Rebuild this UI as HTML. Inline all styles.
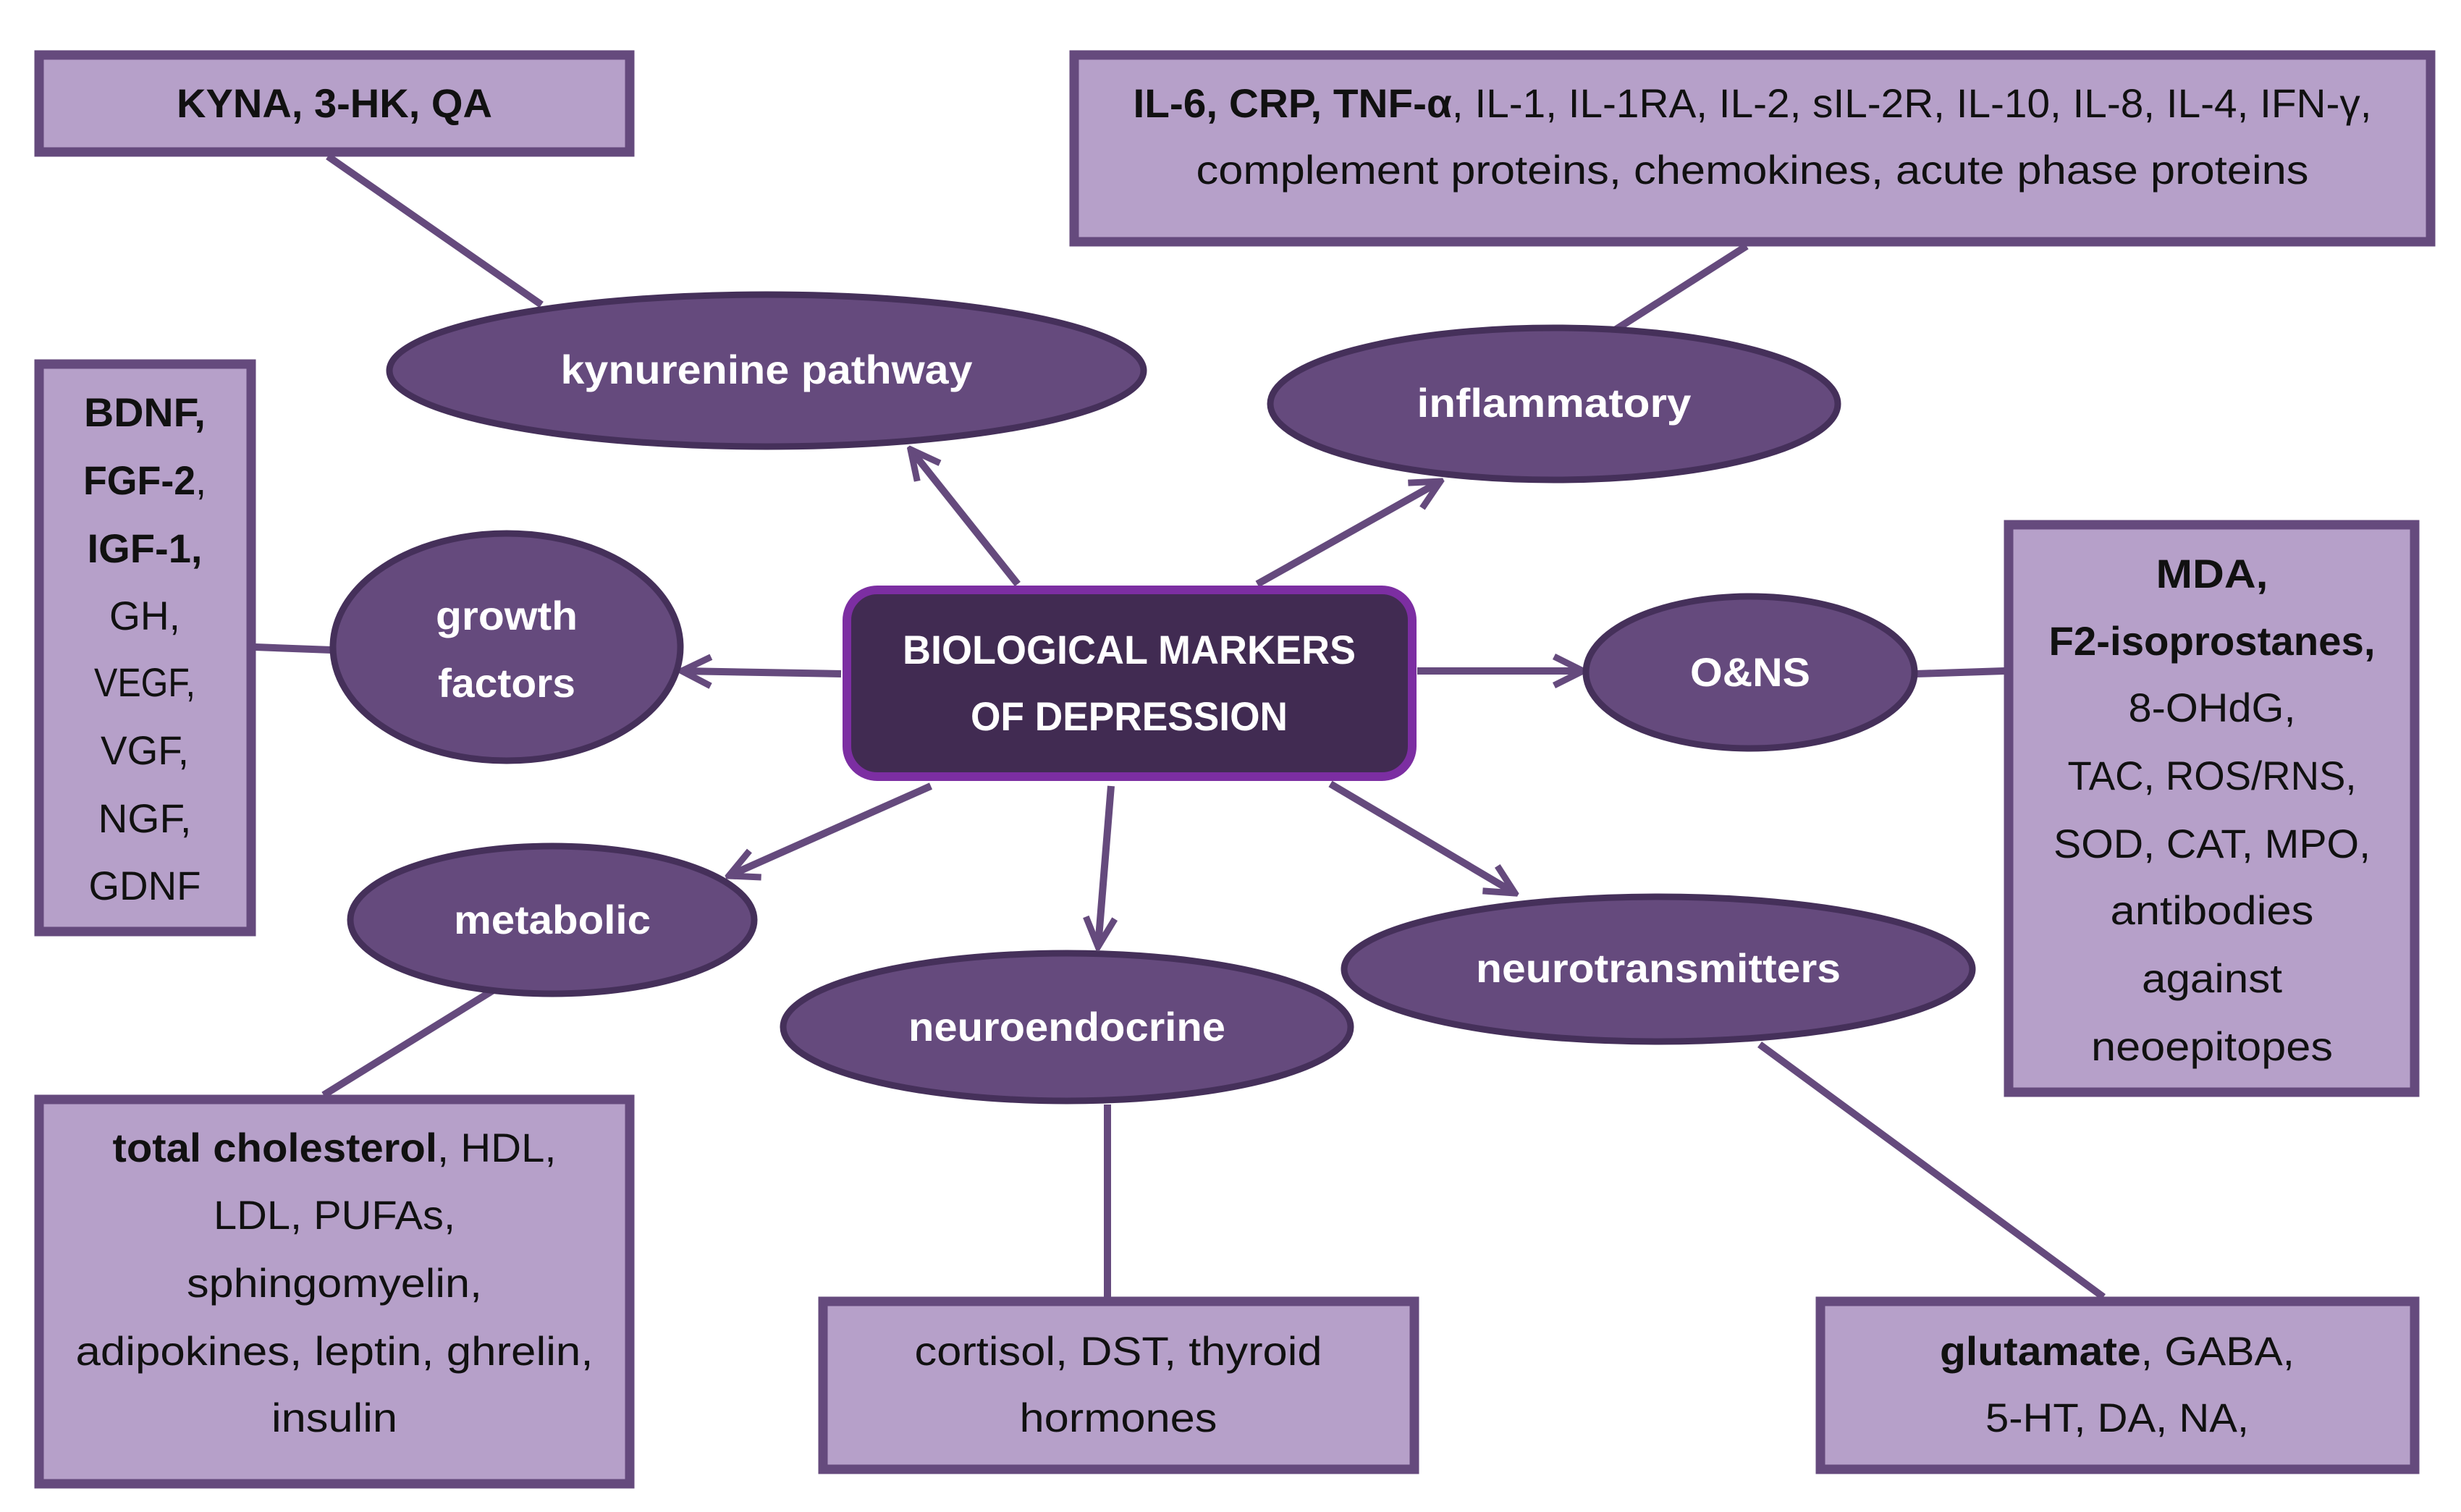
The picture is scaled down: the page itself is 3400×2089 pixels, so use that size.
<!DOCTYPE html>
<html><head><meta charset="utf-8"><style>html,body{margin:0;padding:0;background:#fff}svg{display:block}</style></head>
<body>
<svg width="3400" height="2089" viewBox="0 0 3400 2089" xmlns="http://www.w3.org/2000/svg" font-family="'Liberation Sans', sans-serif">
<defs>
<marker id="a" viewBox="0 0 10 10" refX="9" refY="5" markerWidth="5" markerHeight="5" orient="auto" markerUnits="strokeWidth">
<polyline points="1,1 9,5 1,9" fill="none" stroke="#654a7d" stroke-width="1.8" stroke-linejoin="miter"/>
</marker>
</defs>
<g stroke="#654a7d" stroke-width="10" fill="none">
<line x1="453" y1="216" x2="748" y2="421"/>
<line x1="2413" y1="340" x2="2228" y2="458"/>
<line x1="353" y1="894" x2="458" y2="898"/>
<line x1="2647" y1="931" x2="2769" y2="927"/>
<line x1="680" y1="1369" x2="447" y2="1513"/>
<line x1="1530" y1="1526" x2="1530" y2="1792"/>
<line x1="2431" y1="1443" x2="2906" y2="1792"/>
<line x1="1406" y1="807" x2="1258" y2="621" marker-end="url(#a)"/>
<line x1="1737" y1="807" x2="1990" y2="665" marker-end="url(#a)"/>
<line x1="1162" y1="931" x2="942" y2="927" marker-end="url(#a)"/>
<line x1="1958" y1="927" x2="2187" y2="927" marker-end="url(#a)"/>
<line x1="1286" y1="1086" x2="1007" y2="1210" marker-end="url(#a)"/>
<line x1="1535" y1="1086" x2="1517" y2="1308" marker-end="url(#a)"/>
<line x1="1838" y1="1083" x2="2093" y2="1234" marker-end="url(#a)"/>
</g>
<g fill="#b6a0c9" stroke="#654a7d" stroke-width="13">
<rect x="54" y="76" width="816" height="134"/>
<rect x="1484" y="76" width="1874" height="258"/>
<rect x="54" y="503" width="293" height="784"/>
<rect x="2775" y="725" width="561" height="784"/>
<rect x="54" y="1519" width="816" height="531"/>
<rect x="1137" y="1798" width="817" height="232"/>
<rect x="2515" y="1798" width="821" height="232"/>
</g>
<g fill="#654a7d" stroke="#45305a" stroke-width="9">
<ellipse cx="1059" cy="512" rx="521" ry="105"/>
<ellipse cx="2147" cy="558" rx="392" ry="105"/>
<ellipse cx="700" cy="894" rx="240" ry="157"/>
<ellipse cx="2418" cy="929" rx="227" ry="105"/>
<ellipse cx="763" cy="1271" rx="279" ry="102"/>
<ellipse cx="1474" cy="1419" rx="392" ry="102"/>
<ellipse cx="2291" cy="1339" rx="434" ry="100"/>
</g>
<rect x="1170" y="815" width="781" height="258" rx="42" fill="#412b52" stroke="#7c2ea2" stroke-width="12"/>
<g fill="#fff" font-weight="bold" font-size="56" text-anchor="middle">
<text x="1560" y="917" textLength="626" lengthAdjust="spacingAndGlyphs">BIOLOGICAL MARKERS</text>
<text x="1560" y="1009" textLength="438" lengthAdjust="spacingAndGlyphs">OF DEPRESSION</text>
<text x="1059" y="530" textLength="569" lengthAdjust="spacingAndGlyphs">kynurenine pathway</text>
<text x="2147" y="576" textLength="379" lengthAdjust="spacingAndGlyphs">inflammatory</text>
<text x="700" y="870" textLength="196" lengthAdjust="spacingAndGlyphs">growth</text>
<text x="700" y="963" textLength="190" lengthAdjust="spacingAndGlyphs">factors</text>
<text x="2418" y="948" textLength="166" lengthAdjust="spacingAndGlyphs">O&amp;NS</text>
<text x="763" y="1290" textLength="272" lengthAdjust="spacingAndGlyphs">metabolic</text>
<text x="1474" y="1438" textLength="438" lengthAdjust="spacingAndGlyphs">neuroendocrine</text>
<text x="2291" y="1357" textLength="504" lengthAdjust="spacingAndGlyphs">neurotransmitters</text>
</g>
<g fill="#111" font-size="56" text-anchor="middle" lengthAdjust="spacingAndGlyphs">
<text x="462" y="162" font-weight="bold" textLength="436" lengthAdjust="spacingAndGlyphs">KYNA, 3-HK, QA</text>
<text x="2421" y="162" textLength="1711" lengthAdjust="spacingAndGlyphs"><tspan font-weight="bold">IL-6, CRP, TNF-α</tspan>, IL-1, IL-1RA, IL-2, sIL-2R, IL-10, IL-8, IL-4, IFN-γ,</text>
<text x="2421" y="254" textLength="1537" lengthAdjust="spacingAndGlyphs">complement proteins, chemokines, acute phase proteins</text>
<text x="200" y="589" font-weight="bold" textLength="168" lengthAdjust="spacingAndGlyphs">BDNF,</text>
<text x="200" y="683" textLength="170" lengthAdjust="spacingAndGlyphs"><tspan font-weight="bold">FGF-2</tspan>,</text>
<text x="200" y="777" font-weight="bold" textLength="159" lengthAdjust="spacingAndGlyphs">IGF-1,</text>
<text x="200" y="870" textLength="98" lengthAdjust="spacingAndGlyphs">GH,</text>
<text x="200" y="962" textLength="140" lengthAdjust="spacingAndGlyphs">VEGF,</text>
<text x="200" y="1056" textLength="122" lengthAdjust="spacingAndGlyphs">VGF,</text>
<text x="200" y="1150" textLength="129" lengthAdjust="spacingAndGlyphs">NGF,</text>
<text x="200" y="1243" textLength="155" lengthAdjust="spacingAndGlyphs">GDNF</text>
<text x="3056" y="812" font-weight="bold" textLength="155" lengthAdjust="spacingAndGlyphs">MDA,</text>
<text x="3056" y="905" font-weight="bold" textLength="451" lengthAdjust="spacingAndGlyphs">F2-isoprostanes,</text>
<text x="3056" y="997" textLength="231" lengthAdjust="spacingAndGlyphs">8-OHdG,</text>
<text x="3056" y="1091" textLength="399" lengthAdjust="spacingAndGlyphs">TAC, ROS/RNS,</text>
<text x="3056" y="1185" textLength="438" lengthAdjust="spacingAndGlyphs">SOD, CAT, MPO,</text>
<text x="3056" y="1277" textLength="281" lengthAdjust="spacingAndGlyphs">antibodies</text>
<text x="3056" y="1371" textLength="194" lengthAdjust="spacingAndGlyphs">against</text>
<text x="3056" y="1465" textLength="334" lengthAdjust="spacingAndGlyphs">neoepitopes</text>
<text x="462" y="1605" textLength="613" lengthAdjust="spacingAndGlyphs"><tspan font-weight="bold">total cholesterol</tspan>, HDL,</text>
<text x="462" y="1698" textLength="334" lengthAdjust="spacingAndGlyphs">LDL,  PUFAs,</text>
<text x="462" y="1792" textLength="408" lengthAdjust="spacingAndGlyphs">sphingomyelin,</text>
<text x="462" y="1886" textLength="715" lengthAdjust="spacingAndGlyphs">adipokines, leptin, ghrelin,</text>
<text x="462" y="1978" textLength="174" lengthAdjust="spacingAndGlyphs">insulin</text>
<text x="1545" y="1886" textLength="563" lengthAdjust="spacingAndGlyphs">cortisol, DST, thyroid</text>
<text x="1545" y="1978" textLength="273" lengthAdjust="spacingAndGlyphs">hormones</text>
<text x="2925" y="1886" textLength="490" lengthAdjust="spacingAndGlyphs"><tspan font-weight="bold">glutamate</tspan>, GABA,</text>
<text x="2925" y="1978" textLength="364" lengthAdjust="spacingAndGlyphs">5-HT, DA, NA,</text>
</g>
</svg>
</body></html>
